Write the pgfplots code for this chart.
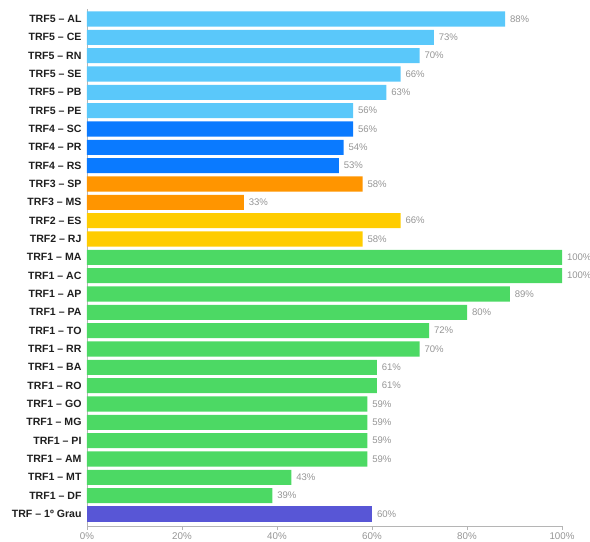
\documentclass[border=0pt]{standalone}
\usepackage{fontspec}
\setmainfont{Liberation Sans}
\usepackage{pgfplots}
\pgfplotsset{compat=1.18}
\definecolor{lblue}{HTML}{5AC8FA}
\definecolor{dblue}{HTML}{0A7AFF}
\definecolor{orng}{HTML}{FF9500}
\definecolor{yell}{HTML}{FFCC00}
\definecolor{grn}{HTML}{4CD964}
\definecolor{purp}{HTML}{5856D6}
\definecolor{txtgray}{HTML}{959595}
\definecolor{axgray}{HTML}{B5B5B5}
\begin{document}
\begin{tikzpicture}[x=1bp,y=1bp]
\useasboundingbox (-87bp,-16bp) rectangle (503bp,526bp);
\begin{axis}[
  at={(0,0)}, anchor=south west,
  scale only axis,
  width=475bp, height=517bp,
  xmin=0, xmax=100,
  ymin=-0.655, ymax=27.545,
  /pgf/number format/assume math mode=true,
  axis x line*=bottom,
  axis y line*=left,
  axis line style={axgray, line width=0.8pt},
  xtick={0,20,40,60,80,100},
  xticklabel={\pgfmathprintnumber{\tick}\%},
  xticklabel style={font=\fontsize{9.8}{11}\selectfont, text=txtgray, yshift=1bp},
  x tick style={axgray, line width=0.6pt},
  tick align=outside,
  major tick length=4bp,
  ytick={0,...,27},
  yticklabels={TRF – 1º Grau, TRF1 – DF, TRF1 – MT, TRF1 – AM, TRF1 – PI, TRF1 – MG, TRF1 – GO, TRF1 – RO, TRF1 – BA, TRF1 – RR, TRF1 – TO, TRF1 – PA, TRF1 – AP, TRF1 – AC, TRF1 – MA, TRF2 – RJ, TRF2 – ES, TRF3 – MS, TRF3 – SP, TRF4 – RS, TRF4 – PR, TRF4 – SC, TRF5 – PE, TRF5 – PB, TRF5 – SE, TRF5 – RN, TRF5 – CE, TRF5 – AL},
  yticklabel style={font=\fontsize{10.6}{11}\selectfont\bfseries, text=black!88, xshift=2bp},
  y tick style={draw=none},
  xbar, bar shift=0pt, bar width=0.82,
  nodes near coords={\pgfmathprintnumber{\pgfplotspointmeta}\%},
  nodes near coords style={font=\fontsize{9.6}{11}\selectfont, text=txtgray, anchor=west, xshift=1.5bp},
  point meta=x,
  clip=false,
]
\addplot[fill=lblue, draw=none] coordinates {(88,27) (73,26) (70,25) (66,24) (63,23) (56,22)};
\addplot[fill=dblue, draw=none] coordinates {(56,21) (54,20) (53,19)};
\addplot[fill=orng, draw=none] coordinates {(58,18) (33,17)};
\addplot[fill=yell, draw=none] coordinates {(66,16) (58,15)};
\addplot[fill=grn, draw=none] coordinates {(100,14) (100,13) (89,12) (80,11) (72,10) (70,9) (61,8) (61,7) (59,6) (59,5) (59,4) (59,3) (43,2) (39,1)};
\addplot[fill=purp, draw=none] coordinates {(60,0)};
\end{axis}
\end{tikzpicture}
\end{document}
